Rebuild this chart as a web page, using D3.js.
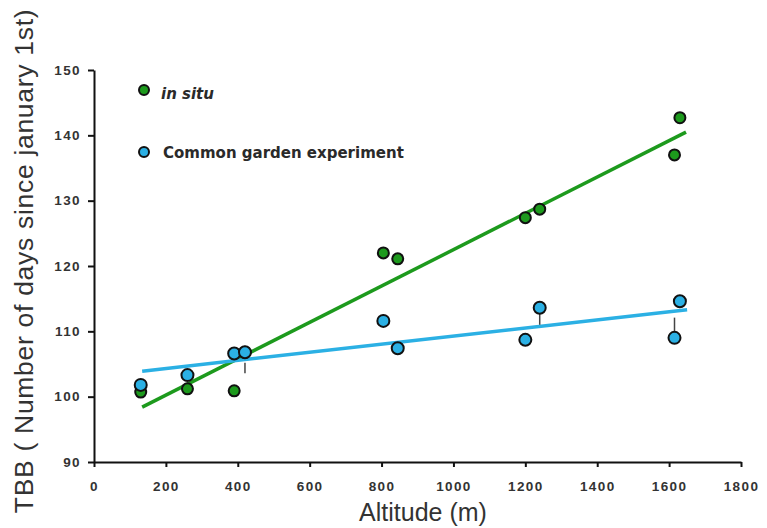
<!DOCTYPE html>
<html><head><meta charset="utf-8">
<script src="https://cdn.jsdelivr.net/npm/d3@7"></script>
<style>body{margin:0;background:#fff}svg{display:block}</style>
</head><body>
<script>
const altitudes = [130, 260, 390, 420, 805, 845, 1200, 1240, 1615, 1630];
const inSitu = [100.7, 101.2, 100.9, 106.8, 122.0, 121.1, 127.4, 128.7, 137.0, 142.7];
const garden = [101.8, 103.3, 106.6, 106.8, 111.6, 107.4, 108.7, 113.6, 109.0, 114.6];
const gardenErrLow = [0, 0, 0, 3.2, 0, 0, 0, 0, 0, 0];
const gardenErrHigh = [0, 0, 0, 0, 1.0, 0, 0, 0, 3.1, 0];
const gardenErrDown = [0, 0, 0, 0, 0, 0, 0, 2.6, 0, 0];
const fitInSitu = {x: [134, 1647], y: [98.4, 140.5]};
const fitGarden = {x: [134, 1650], y: [103.9, 113.3]};
const xTicks = [0, 200, 400, 600, 800, 1000, 1200, 1400, 1600, 1800];
const yTicks = [90, 100, 110, 120, 130, 140, 150];
const seriesNames = ["in situ", "Common garden experiment"];
const colors = {green: "#1d9a1d", blue: "#2bb0e4"};

const W = 767, H = 528;
const svg = d3.select("body").append("svg").attr("width", W).attr("height", H);
const x = d3.scaleLinear().domain([0, 1800]).range([94, 741]);
const y = d3.scaleLinear().domain([90, 150]).range([462, 70]);

// axes
const xa = svg.append("g").attr("transform", `translate(0,${y(90)})`)
  .call(d3.axisBottom(x).tickValues(xTicks).tickFormat(d3.format("d")).tickSize(5).tickSizeOuter(0).tickPadding(14));
const ya = svg.append("g").attr("transform", `translate(${x(0)},0)`)
  .call(d3.axisLeft(y).tickValues(yTicks).tickFormat(d3.format("d")).tickSize(6).tickSizeOuter(0).tickPadding(7));
[xa, ya].forEach(a => {
  a.select(".domain").attr("stroke", "#111").attr("stroke-width", 2);
  a.selectAll(".tick line").attr("stroke", "#111").attr("stroke-width", 2);
  a.selectAll("text").attr("font-family", "Liberation Sans, Arial, sans-serif")
    .attr("font-size", 13.5).attr("font-weight", "bold").attr("letter-spacing", 1.4).attr("fill", "#333");
});

// axis titles
svg.append("text").attr("x", 423).attr("y", 521).attr("text-anchor", "middle")
  .attr("font-family", "Liberation Sans, Arial, sans-serif").attr("font-size", 25).attr("fill", "#333")
  .text("Altitude (m)");
svg.append("text").attr("transform", "translate(33,261) rotate(-90)").attr("text-anchor", "middle")
  .attr("font-family", "Liberation Sans, Arial, sans-serif").attr("font-size", 26.5)
  .attr("letter-spacing", 0.7).attr("fill", "#333")
  .text("TBB ( Number of days since january 1st)");

// regression lines
const line = d3.line().x(d => x(d[0])).y(d => y(d[1]));
svg.append("path").attr("d", line(d3.zip(fitInSitu.x, fitInSitu.y)))
  .attr("stroke", colors.green).attr("stroke-width", 3.5).attr("fill", "none");
svg.append("path").attr("d", line(d3.zip(fitGarden.x, fitGarden.y)))
  .attr("stroke", colors.blue).attr("stroke-width", 3.5).attr("fill", "none");

// error bars (garden)
const gErr = svg.append("g").attr("stroke", "#444").attr("stroke-width", 1.5);
altitudes.forEach((a, i) => {
  if (gardenErrLow[i]) gErr.append("line").attr("x1", x(a)).attr("x2", x(a))
    .attr("y1", y(garden[i] - 1.6)).attr("y2", y(garden[i] - gardenErrLow[i]));
  if (gardenErrHigh[i]) gErr.append("line").attr("x1", x(a)).attr("x2", x(a))
    .attr("y1", y(garden[i] + 0.9)).attr("y2", y(garden[i] + gardenErrHigh[i]));
  if (gardenErrDown[i]) gErr.append("line").attr("x1", x(a)).attr("x2", x(a))
    .attr("y1", y(garden[i] - 0.9)).attr("y2", y(garden[i] - gardenErrDown[i]));
});

// points
svg.append("g").selectAll("circle").data(altitudes).join("circle")
  .attr("cx", d => x(d)).attr("cy", (d, i) => y(inSitu[i])).attr("r", 5.5)
  .attr("fill", colors.green).attr("stroke", "#111").attr("stroke-width", 2);
svg.append("g").selectAll("circle").data(altitudes).join("circle")
  .attr("cx", d => x(d)).attr("cy", (d, i) => y(garden[i])).attr("r", 6)
  .attr("fill", colors.blue).attr("stroke", "#111").attr("stroke-width", 2);

// legend
const lg = svg.append("g").attr("font-family", "DejaVu Sans, Verdana, sans-serif")
  .attr("font-size", 15).attr("font-weight", "bold").attr("fill", "#2a2a2a");
lg.append("circle").attr("cx", 144).attr("cy", 90).attr("r", 5).attr("fill", colors.green)
  .attr("stroke", "#111").attr("stroke-width", 2);
lg.append("text").attr("x", 161).attr("y", 99).attr("font-style", "italic").text(seriesNames[0]);
lg.append("circle").attr("cx", 144).attr("cy", 152).attr("r", 5).attr("fill", colors.blue)
  .attr("stroke", "#111").attr("stroke-width", 2);
lg.append("text").attr("x", 163).attr("y", 158).text(seriesNames[1]);
</script>
</body></html>
